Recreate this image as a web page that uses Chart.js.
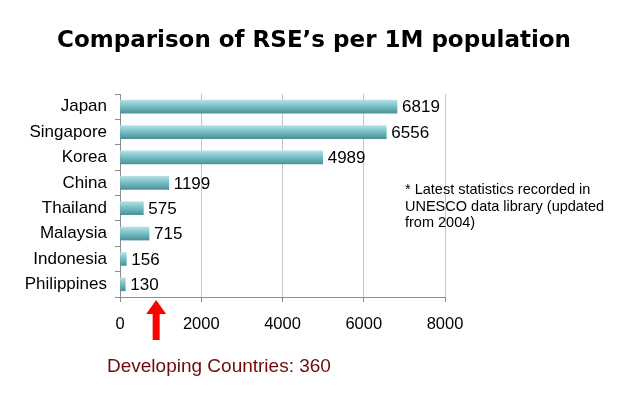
<!DOCTYPE html>
<html>
<head>
<meta charset="utf-8">
<script src="https://cdn.jsdelivr.net/npm/chart.js@4"></script>
<style>
    html, body { margin: 0; padding: 0; background: #ffffff; }
    #wrap { width: 620px; height: 395px; }
</style>
</head>
<body>
<div id="wrap"><canvas id="rseChart" width="620" height="395"></canvas></div>
<script>
// Chart data
const countries = ['Japan', 'Singapore', 'Korea', 'China', 'Thailand', 'Malaysia', 'Indonesia', 'Philippines'];
const rsePerMillion = [6819, 6556, 4989, 1199, 575, 715, 156, 130];
const xTicks = [0, 2000, 4000, 6000, 8000];

const titleText = 'Comparison of RSE\u2019s per 1M population';
const noteLines = ['* Latest statistics recorded in', 'UNESCO data library (updated', 'from 2004)'];
const bottomNote = 'Developing Countries: 360';
const arrowValue = 890;

const BAR_THICKNESS = 13;

// Gradient fill for bars (lighter on top, darker below)
function barFill(context) {
    const chart = context.chart;
    const yScale = chart.scales.y;
    if (!chart.chartArea || !yScale || context.dataIndex === undefined) return '#7cc3ca';
    const cy = yScale.getPixelForValue(context.dataIndex);
    if (!isFinite(cy)) return '#7cc3ca';
    const top = cy - BAR_THICKNESS / 2;
    const g = chart.ctx.createLinearGradient(0, top, 0, top + BAR_THICKNESS);
    g.addColorStop(0, '#b3e2e6');
    g.addColorStop(0.4, '#7fc4cb');
    g.addColorStop(1, '#4a939b');
    return g;
}

// Title, value labels, note text, arrow and footer
const extrasPlugin = {
    id: 'extras',
    afterDatasetsDraw(chart) {
        const ctx = chart.ctx;
        const meta = chart.getDatasetMeta(0);
        ctx.save();
        ctx.font = '17px Arial, "Liberation Sans", sans-serif';
        ctx.fillStyle = '#000000';
        ctx.textAlign = 'left';
        ctx.textBaseline = 'middle';
        meta.data.forEach((bar, i) => {
            ctx.fillText(String(rsePerMillion[i]), bar.x + 5, bar.y + 1);
        });
        ctx.restore();
    },
    afterDraw(chart) {
        const ctx = chart.ctx;
        const xs = chart.scales.x;
        ctx.save();

        // title, squeezed to the reference width
        ctx.font = 'bold 23px "DejaVu Sans", sans-serif';
        ctx.fillStyle = '#000000';
        ctx.textAlign = 'center';
        ctx.textBaseline = 'middle';
        const w = ctx.measureText(titleText).width;
        const target = 514;
        ctx.translate(314, 41);
        ctx.scale(Math.min(1.15, target / w), 1);
        ctx.fillText(titleText, 0, 0);
        ctx.setTransform(1, 0, 0, 1, 0, 0);

        // side note
        ctx.font = '14.5px Arial, "Liberation Sans", sans-serif';
        ctx.textAlign = 'left';
        noteLines.forEach((line, i) => {
            ctx.fillText(line, 405, 190 + i * 16.5);
        });

        // red arrow
        const ax = xs.getPixelForValue(arrowValue);
        ctx.fillStyle = '#ff0000';
        ctx.beginPath();
        ctx.moveTo(ax, 300);
        ctx.lineTo(ax + 10, 314);
        ctx.lineTo(ax + 3.5, 314);
        ctx.lineTo(ax + 3.5, 340);
        ctx.lineTo(ax - 3.5, 340);
        ctx.lineTo(ax - 3.5, 314);
        ctx.lineTo(ax - 10, 314);
        ctx.closePath();
        ctx.fill();

        // footer text
        ctx.font = '19px Arial, "Liberation Sans", sans-serif';
        ctx.fillStyle = '#6e0c0c';
        ctx.fillText(bottomNote, 107, 367);
        ctx.restore();
    }
};

const chart = new Chart(document.getElementById('rseChart'), {
    type: 'bar',
    data: {
        labels: countries,
        datasets: [{
            data: rsePerMillion,
            backgroundColor: barFill,
            borderWidth: 0,
            barThickness: BAR_THICKNESS
        }]
    },
    options: {
        indexAxis: 'y',
        responsive: false,
        animation: false,
        layout: { padding: { left: 0, right: 175, top: 94, bottom: 0 } },
        plugins: {
            legend: { display: false },
            tooltip: { enabled: false },
            title: { display: false }
        },
        scales: {
            x: {
                min: 0,
                max: 8000,
                afterBuildTicks(axis) {
                    axis.ticks = xTicks.map(v => ({ value: v }));
                },
                afterFit(axis) { axis.height = 98; },
                grid: {
                    color: '#c4c4c4',
                    lineWidth: 1,
                    tickLength: 5,
                    tickColor: '#8c8c8c'
                },
                border: { color: '#8c8c8c', width: 1 },
                ticks: {
                    color: '#000000',
                    padding: 13,
                    maxRotation: 0,
                    callback: value => String(value),
                    font: { family: 'Arial, "Liberation Sans", sans-serif', size: 16.5 }
                }
            },
            y: {
                afterFit(axis) { axis.width = 120; },
                grid: {
                    offset: true,
                    drawOnChartArea: false,
                    tickLength: 5,
                    tickColor: '#8c8c8c'
                },
                border: { color: '#8c8c8c', width: 1 },
                ticks: {
                    color: '#000000',
                    padding: 8,
                    font: { family: 'Arial, "Liberation Sans", sans-serif', size: 17 }
                }
            }
        }
    },
    plugins: [extrasPlugin]
});
</script>
</body>
</html>
